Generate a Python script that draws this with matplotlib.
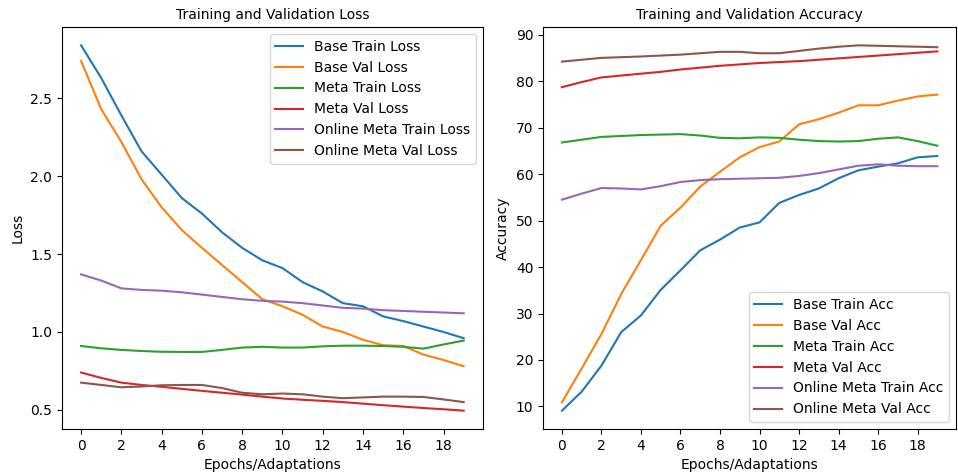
import matplotlib
matplotlib.use('Agg')
import matplotlib.pyplot as plt
import numpy as np

epochs = np.arange(20)

# loss curves
base_train_loss = [2.84, 2.63, 2.39, 2.16, 2.01, 1.86, 1.76, 1.64, 1.54, 1.46,
                   1.41, 1.32, 1.26, 1.185, 1.165, 1.10, 1.07, 1.035, 1.00, 0.96]
base_val_loss = [2.74, 2.43, 2.22, 1.98, 1.80, 1.655, 1.54, 1.43, 1.32, 1.21,
                 1.165, 1.11, 1.035, 1.00, 0.95, 0.915, 0.91, 0.855, 0.82, 0.78]
meta_train_loss = [0.91, 0.895, 0.885, 0.878, 0.873, 0.872, 0.872, 0.885, 0.90, 0.905,
                   0.90, 0.90, 0.908, 0.912, 0.912, 0.91, 0.905, 0.893, 0.92, 0.945]
meta_val_loss = [0.74, 0.705, 0.675, 0.66, 0.648, 0.635, 0.622, 0.61, 0.598, 0.585,
                 0.573, 0.565, 0.558, 0.55, 0.54, 0.53, 0.521, 0.512, 0.504, 0.495]
online_train_loss = [1.37, 1.33, 1.28, 1.27, 1.265, 1.255, 1.24, 1.225, 1.21, 1.20,
                     1.195, 1.185, 1.17, 1.155, 1.15, 1.14, 1.135, 1.13, 1.125, 1.12]
online_val_loss = [0.675, 0.66, 0.645, 0.65, 0.658, 0.66, 0.66, 0.64, 0.61, 0.60,
                   0.605, 0.60, 0.585, 0.575, 0.58, 0.585, 0.585, 0.583, 0.567, 0.55]

# accuracy curves
base_train_acc = [9.1, 13.2, 18.8, 26.0, 29.6, 35.1, 39.3, 43.6, 45.9, 48.5,
                  49.6, 53.8, 55.5, 56.9, 59.1, 60.8, 61.6, 62.3, 63.6, 63.9]
base_val_acc = [10.9, 18.2, 25.6, 34.2, 41.5, 48.9, 52.8, 57.3, 60.5, 63.6,
                65.8, 67.0, 70.7, 71.8, 73.2, 74.8, 74.8, 75.8, 76.7, 77.1]
meta_train_acc = [66.8, 67.4, 68.0, 68.2, 68.4, 68.5, 68.6, 68.3, 67.8, 67.7,
                  67.9, 67.8, 67.4, 67.1, 67.0, 67.1, 67.6, 67.9, 67.1, 66.1]
meta_val_acc = [78.7, 79.8, 80.8, 81.2, 81.6, 82.0, 82.5, 82.9, 83.3, 83.6,
                83.9, 84.1, 84.3, 84.6, 84.9, 85.2, 85.5, 85.8, 86.1, 86.4]
online_train_acc = [54.5, 55.8, 57.0, 56.9, 56.7, 57.4, 58.3, 58.7, 58.9, 59.0,
                    59.1, 59.2, 59.6, 60.2, 61.0, 61.8, 62.1, 61.8, 61.7, 61.7]
online_val_acc = [84.2, 84.6, 85.0, 85.15, 85.3, 85.5, 85.7, 86.0, 86.3, 86.3,
                  86.0, 86.0, 86.5, 87.0, 87.4, 87.7, 87.6, 87.5, 87.4, 87.3]

fig = plt.figure(figsize=(9.58, 4.75), dpi=100)
ax1 = fig.add_axes([0.0647, 0.097, 0.4393, 0.846])
ax2 = fig.add_axes([0.567, 0.097, 0.431, 0.846])

ax1.plot(epochs, base_train_loss, label='Base Train Loss')
ax1.plot(epochs, base_val_loss, label='Base Val Loss')
ax1.plot(epochs, meta_train_loss, label='Meta Train Loss')
ax1.plot(epochs, meta_val_loss, label='Meta Val Loss')
ax1.plot(epochs, online_train_loss, label='Online Meta Train Loss')
ax1.plot(epochs, online_val_loss, label='Online Meta Val Loss')
ax1.set_title('Training and Validation Loss', fontsize=10)
ax1.set_xlabel('Epochs/Adaptations')
ax1.set_ylabel('Loss')
ax1.set_xticks(range(0, 20, 2))
ax1.legend(loc='upper right')

ax2.plot(epochs, base_train_acc, label='Base Train Acc')
ax2.plot(epochs, base_val_acc, label='Base Val Acc')
ax2.plot(epochs, meta_train_acc, label='Meta Train Acc')
ax2.plot(epochs, meta_val_acc, label='Meta Val Acc')
ax2.plot(epochs, online_train_acc, label='Online Meta Train Acc')
ax2.plot(epochs, online_val_acc, label='Online Meta Val Acc')
ax2.set_title('Training and Validation Accuracy', fontsize=10)
ax2.set_xlabel('Epochs/Adaptations')
ax2.set_ylabel('Accuracy')
ax2.set_xticks(range(0, 20, 2))
ax2.legend(loc='lower right')

plt.savefig('out.png', dpi=100)
plt.close()
